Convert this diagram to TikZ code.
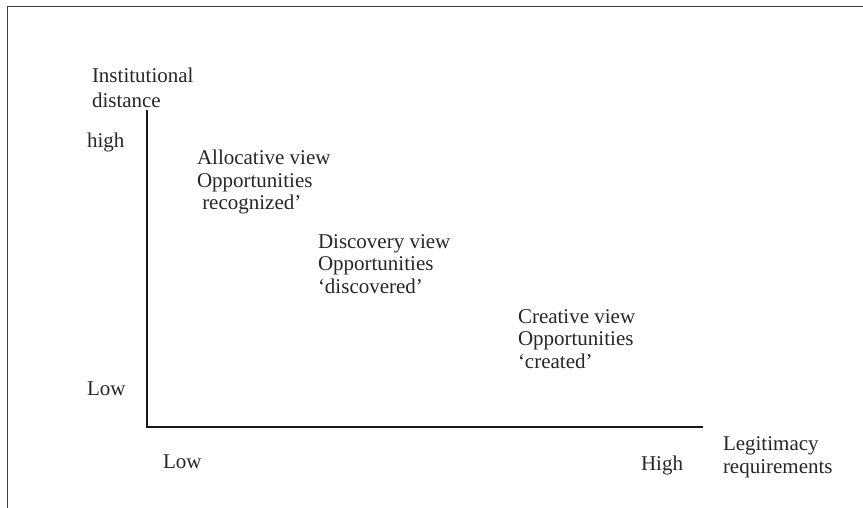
\documentclass[tikz,border=0pt]{standalone}
\usepackage{fontspec}
\setmainfont{Liberation Serif}
\begin{document}
\begin{tikzpicture}[x=1pt,y=-1pt,
  lbl/.style={anchor=base west,inner sep=0pt,outer sep=0pt,align=left,font=\fontsize{21}{23}\selectfont,text=black!85},
  axisline/.style={line width=1.6pt,black!90},
  frameline/.style={line width=1.8pt,black!75}]
\useasboundingbox (0,0) rectangle (863,508);
\coordinate (ftr) at (863,6.5);
\coordinate (ftl) at (7.5,6.5);
\coordinate (fbl) at (7.5,508);
\draw[frameline] (ftr) -- (ftl) -- (fbl);
\coordinate (ytop) at (147,110);
\coordinate (orig) at (147,427);
\coordinate (xend) at (703,427);
\draw[axisline] (ytop) -- (orig) -- (xend);
\node[lbl] (inst1) at (92,83) {Institutional};
\node[lbl] (inst2) at (92,108) {distance};
\node[lbl] (yhigh) at (87,148) {high};
\node[lbl] (ylow) at (87,395) {Low};
\node[lbl] (xlow) at (163,468) {Low};
\node[lbl] (xhigh) at (641,470) {High};
\node[lbl] (leg1) at (723,450) {Legitimacy};
\node[lbl] (leg2) at (723,473) {requirements};
\node[lbl] (alloc1) at (197,165) {Allocative view};
\node[lbl] (alloc2) at (197,187.5) {Opportunities};
\node[lbl] (alloc3) at (197,210) {\ recognized’};
\node[lbl] (disc1) at (318,248) {Discovery view};
\node[lbl] (disc2) at (318,270.5) {Opportunities};
\node[lbl] (disc3) at (318,293) {‘discovered’};
\node[lbl] (crea1) at (518,323) {Creative view};
\node[lbl] (crea2) at (518,345.5) {Opportunities};
\node[lbl] (crea3) at (518,368) {‘created’};
\end{tikzpicture}
\end{document}
